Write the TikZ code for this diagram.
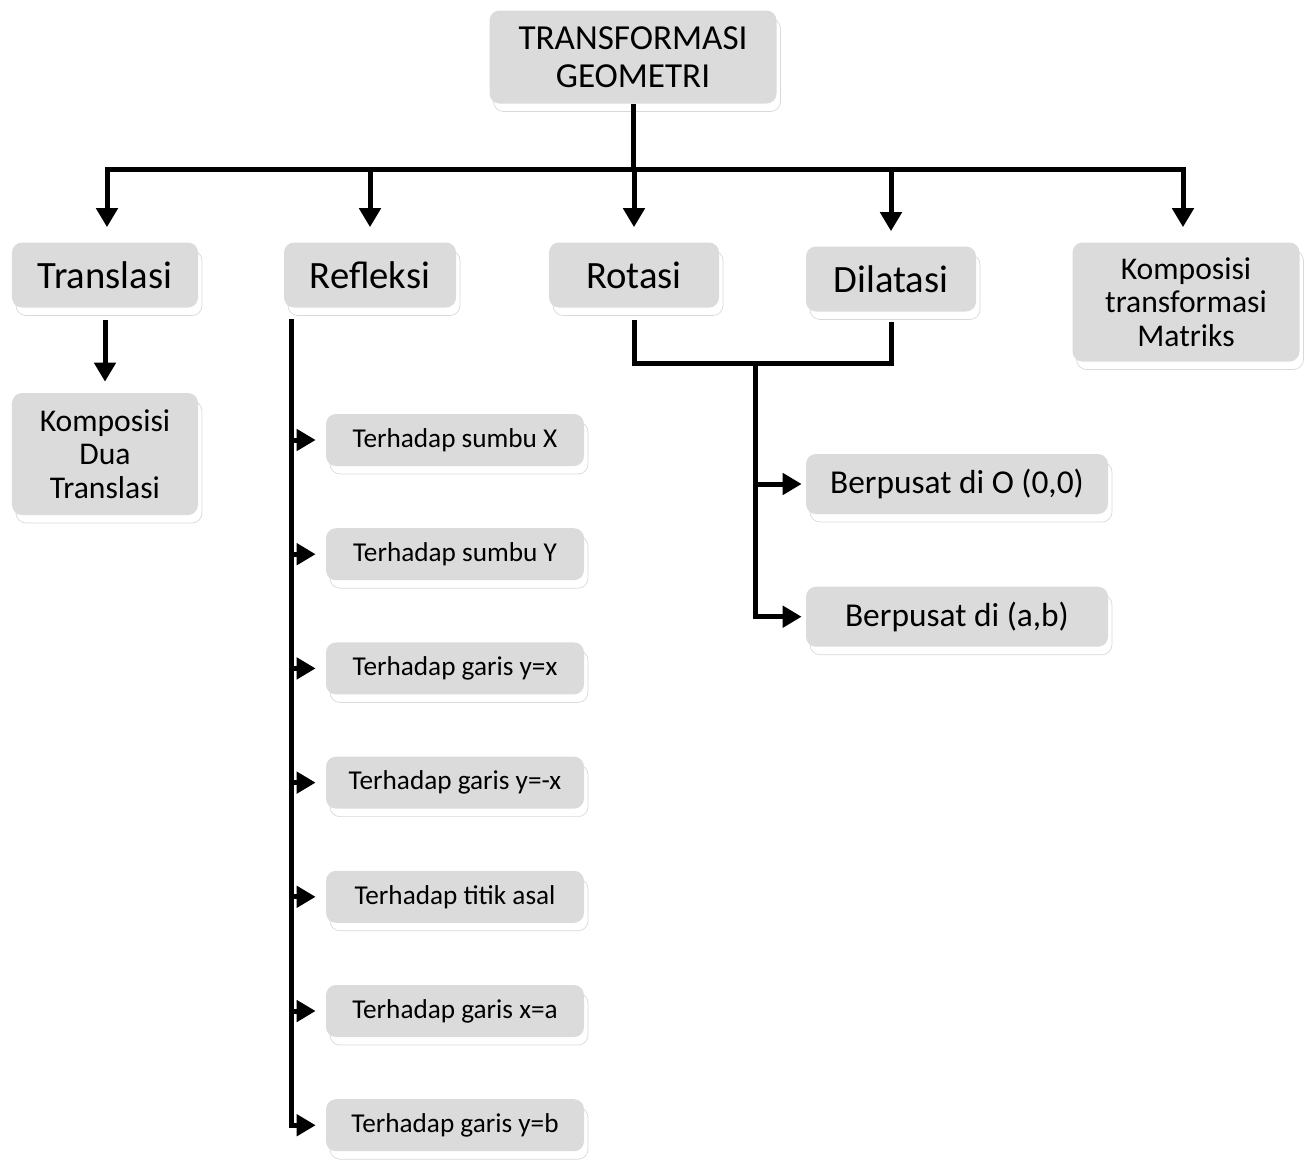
\documentclass[tikz,border=0pt]{standalone}
\usepackage{fontspec}
\setmainfont{Carlito}
\usetikzlibrary{arrows.meta,positioning,shadows,calc}

\begin{document}
\begin{tikzpicture}[x=0.2mm,y=-0.2mm,
    >={Triangle[length=3.8mm,width=4.2mm]},
    box/.style={rectangle,rounded corners=2mm,fill=black!14,align=center,
      copy shadow={shadow xshift=0.8mm,shadow yshift=-1.6mm,fill=white,draw=black!15}},
    bigbox/.style={box,font=\fontsize{22}{25}\selectfont,minimum height=13mm},
    compbox/.style={box,font=\fontsize{18}{19}\selectfont},
    subbox/.style={box,font=\fontsize{15.5}{18}\selectfont,minimum width=51.6mm,minimum height=10.4mm},
    centbox/.style={box,font=\fontsize{19}{21}\selectfont,minimum width=60.4mm,minimum height=12mm},
    link/.style={line width=1mm}]
    \useasboundingbox (0,0) rectangle (1310,1160);

    % main boxes
    \node[box,font=\fontsize{20}{21.5}\selectfont,minimum width=57.4mm,minimum height=18.6mm] (geo) at (633,57) {TRANSFORMASI\\GEOMETRI};
    \node[bigbox,minimum width=37.2mm] (tra) at (105,275) {Translasi};
    \node[bigbox,minimum width=34.4mm] (ref) at (370,275) {Refleksi};
    \node[bigbox,minimum width=34mm] (rot) at (634,275) {Rotasi};
    \node[bigbox,minimum width=34mm] (dil) at (891,279) {Dilatasi};
    \node[compbox,minimum width=45.4mm,minimum height=23.8mm] (mat) at (1186,302) {Komposisi\\transformasi\\Matriks};
    \node[compbox,minimum width=37.2mm,minimum height=24.4mm] (dua) at (105,454) {Komposisi\\Dua\\Translasi};

    % refleksi
    \node[subbox] (r1) at (455,440) {Terhadap sumbu X};
    \node[subbox] (r2) [below=12.3mm of r1] {Terhadap sumbu Y};
    \node[subbox] (r3) [below=12.3mm of r2] {Terhadap garis y=x};
    \node[subbox] (r4) [below=12.3mm of r3] {Terhadap garis y=-x};
    \node[subbox] (r5) [below=12.3mm of r4] {Terhadap titik asal};
    \node[subbox] (r6) [below=12.3mm of r5] {Terhadap garis x=a};
    \node[subbox] (r7) [below=12.3mm of r6] {Terhadap garis y=b};

    % rotasi / dilatasi
    \node[centbox] (pO) at (957,484) {Berpusat di O (0,0)};
    \node[centbox] (pab) [below=14.4mm of pO] {Berpusat di (a,b)};

    \coordinate (busL) at (107,169);
    \coordinate (busR) at (1183,169);
    \coordinate (rtop) at ($(ref.south west)+(8,11)$);
    \coordinate (rd) at (755,363);

    \draw[link] (geo.south) -- (geo.south |- busL);
    \draw[link,line cap=rect] (busL) -- (busR);
    \draw[link,->,shorten >=3mm] (busL) -- (busL |- tra.north);
    \draw[link,->,shorten >=3mm] (ref.north |- busL) -- (ref.north);
    \draw[link,->,shorten >=3mm] (rot.north |- busL) -- (rot.north);
    \draw[link,->,shorten >=3mm] (dil.north |- busL) -- (dil.north);
    \draw[link,->,shorten >=3mm] (busR) -- (busR |- mat.north);

    \draw[link,->,shorten <=2.4mm,shorten >=2.2mm] (tra) -- (dua);

    \draw[link,->,shorten >=2mm] (rtop) |- (r7.west);
    \foreach \r in {r1,r2,r3,r4,r5,r6}
      \draw[link,->,shorten >=2mm] (rtop |- \r.west) -- (\r.west);

    \draw[link,shorten <=2.5mm,shorten >=2mm] (rot.south) |- (rd) -| (dil.south);
    \draw[link,->,shorten >=0.8mm] (rd) |- (pab.west);
    \draw[link,->,shorten >=0.8mm] (rd |- pO.west) -- (pO.west);
\end{tikzpicture}
\end{document}
